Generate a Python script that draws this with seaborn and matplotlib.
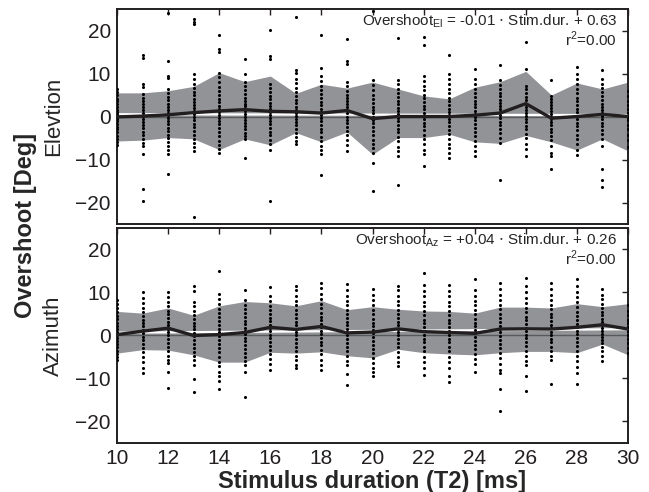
import numpy as np
import pandas as pd
import seaborn as sns
import matplotlib.pyplot as plt

## Donnees ##

durations = list(range(10, 31))

# Overshoot per trial, one list per stimulus duration (10..30 ms)
elev_dots = [
    [6.5, 5.6, 4.9, 4.1, 3.5, 2.8, 2.2, 1.6, 1.0, 0.5, 0.0, -0.6, -1.1, -1.7, -2.4, -3.0, -3.7, -4.5, -5.2, -6.0, -6.6],
    [14.2, 13.6, 7.6, 6.8, 5.2, 4.4, 3.6, 2.9, 2.1, 1.5, 0.8, 0.2, -0.5, -1.2, -1.9, -2.7, -3.5, -4.4, -5.3, -6.1, -6.9, -8.8, -16.9, -19.6],
    [24.0, 13.0, 9.4, 8.9, 6.4, 5.5, 4.6, 3.8, 3.0, 2.3, 1.6, 0.9, 0.3, -0.4, -1.0, -1.8, -2.6, -3.4, -4.3, -5.1, -6.0, -6.9, -7.8, -8.8, -13.4],
    [22.7, 21.9, 21.5, 9.9, 8.75, 7.6, 6.7, 5.8, 4.9, 4.1, 3.3, 2.6, 1.9, 1.2, 0.5, -0.2, -0.9, -1.7, -2.5, -3.4, -4.3, -5.2, -6.2, -7.1, -8.0, -23.3],
    [18.9, 15.8, 15.0, 10.2, 9.1, 8.0, 6.9, 5.9, 5.0, 4.1, 3.3, 2.5, 1.8, 1.1, 0.4, -0.3, -1.0, -1.8, -2.7, -3.6, -4.6, -5.6, -6.6, -7.5, -8.4],
    [13.3, 9.9, 8.1, 7.1, 6.1, 5.2, 4.4, 3.7, 3.0, 2.4, 1.8, 1.2, 0.6, 0.0, -0.7, -1.4, -2.2, -3.0, -3.9, -4.6, -5.3, -9.6],
    [20.2, 14.0, 13.4, 7.6, 6.6, 5.7, 4.8, 4.0, 3.2, 2.5, 1.8, 1.1, 0.4, -0.3, -1.0, -1.8, -2.6, -3.5, -4.4, -5.4, -6.5, -7.7, -19.6],
    [23.2, 10.7, 10.2, 8.75, 7.7, 6.7, 5.7, 4.8, 3.9, 3.1, 2.3, 1.6, 0.9, 0.2, -0.5, -1.2, -2.0, -2.9, -3.8, -4.7, -5.6, -6.5],
    [19.0, 11.25, 9.4, 8.3, 7.2, 6.2, 5.2, 4.3, 3.4, 2.6, 1.8, 1.1, 0.4, -0.3, -1.1, -1.9, -2.8, -3.7, -4.7, -5.8, -6.8, -7.8, -8.8, -13.5],
    [18.0, 12.9, 12.3, 8.0, 7.0, 6.0, 5.1, 4.3, 3.5, 2.8, 2.1, 1.4, 0.7, 0.0, -0.8, -1.6, -2.5, -3.4, -4.4, -5.5, -6.7, -8.0],
    [24.5, 8.4, 7.3, 6.2, 5.1, 4.1, 3.2, 2.3, 1.5, 0.7, 0.0, -0.8, -1.6, -2.5, -3.4, -4.4, -5.4, -6.4, -7.4, -8.4, -10.8, -17.4],
    [18.3, 8.6, 7.5, 6.4, 5.4, 4.5, 3.6, 2.8, 2.0, 1.2, 0.5, -0.3, -1.1, -1.9, -2.8, -3.7, -4.7, -5.8, -7.0, -8.1, -9.2, -15.9],
    [18.5, 16.6, 9.5, 8.3, 7.2, 6.1, 5.1, 4.2, 3.3, 2.5, 1.7, 0.9, 0.2, -0.6, -1.4, -2.3, -3.2, -4.2, -5.3, -6.5, -7.7, -8.8, -11.6],
    [14.2, 9.9, 8.7, 7.5, 6.4, 5.4, 4.4, 3.5, 2.6, 1.8, 1.0, 0.3, -0.5, -1.3, -2.2, -3.1, -4.1, -5.2, -6.3, -7.4, -8.5, -9.6],
    [11.1, 8.75, 7.6, 6.5, 5.5, 4.6, 3.7, 2.9, 2.1, 1.3, 0.6, -0.1, -0.9, -1.7, -2.6, -3.5, -4.5, -5.6, -6.8, -8.0, -9.2],
    [11.9, 8.4, 7.4, 6.4, 5.5, 4.7, 3.9, 3.1, 2.4, 1.7, 1.0, 0.3, -0.4, -1.2, -2.0, -2.9, -3.8, -4.9, -6.1, -14.7],
    [17.3, 11.1, 7.2, 6.3, 5.4, 4.6, 3.8, 3.0, 2.3, 1.6, 0.9, 0.2, -0.5, -1.3, -2.1, -3.0, -4.0, -5.1, -6.3, -7.6, -9.2],
    [8.4, 4.8, 4.0, 3.3, 2.6, 1.9, 1.2, 0.6, 0.0, -0.6, -1.3, -2.0, -2.8, -3.6, -4.5, -5.5, -6.9, -8.6, -9.2, -12.3],
    [11.5, 9.9, 8.7, 7.5, 6.4, 5.4, 4.4, 3.5, 2.6, 1.8, 1.0, 0.2, -0.6, -1.4, -2.3, -3.2, -4.2, -5.3, -6.5, -7.7, -9.0],
    [10.7, 8.75, 7.6, 6.6, 5.6, 4.7, 3.8, 3.0, 2.2, 1.5, 0.8, 0.1, -0.6, -1.4, -2.2, -3.1, -4.1, -5.2, -6.9, -12.3, -14.7, -16.4],
    [6.0, 4.8, 3.7, 2.7, 1.8, 0.9, 0.0, -0.9, -1.9, -3.0, -4.2, -5.5, -7.0],
]

azim_dots = [
    [8.3, 7.3, 6.3, 5.4, 4.6, 3.8, 3.0, 2.3, 1.6, 0.9, 0.2, -0.5, -1.2, -1.9, -2.7, -3.5, -4.4, -5.0, -5.7],
    [10.0, 8.8, 7.6, 6.5, 5.5, 4.6, 3.7, 2.9, 2.1, 1.3, 0.5, -0.3, -1.1, -2.0, -2.9, -3.9, -5.0, -6.2, -7.5, -8.8],
    [10.2, 9.0, 7.9, 6.8, 5.8, 4.9, 4.0, 3.2, 2.4, 1.6, 0.8, 0.0, -0.8, -1.7, -2.6, -3.6, -4.7, -5.6, -6.4, -8.6, -12.1],
    [11.6, 10.4, 7.9, 6.8, 5.8, 4.8, 3.9, 3.0, 2.2, 1.4, 0.6, -0.2, -1.0, -1.9, -2.8, -3.8, -4.8, -5.8, -6.8, -10.2, -13.1],
    [14.9, 9.7, 8.5, 7.3, 6.2, 5.2, 4.2, 3.3, 2.4, 1.5, 0.7, -0.1, -1.0, -1.9, -2.9, -3.9, -5.0, -6.1, -7.2, -8.4, -9.5, -10.5, -12.4],
    [10.5, 8.3, 7.2, 6.2, 5.2, 4.3, 3.4, 2.6, 1.8, 1.0, 0.3, -0.5, -1.3, -2.2, -3.1, -4.1, -5.1, -6.0, -6.8, -8.6, -14.4],
    [11.2, 9.1, 8.0, 6.9, 5.9, 5.0, 4.1, 3.3, 2.5, 1.7, 1.0, 0.2, -0.6, -1.5, -2.4, -3.4, -4.4, -5.5, -6.7, -8.0],
    [11.6, 10.6, 9.3, 8.1, 7.0, 6.0, 5.0, 4.1, 3.2, 2.4, 1.6, 0.8, 0.0, -0.8, -1.7, -2.6, -3.6, -4.7, -5.8, -6.8, -7.6],
    [12.2, 11.0, 9.7, 8.5, 7.4, 6.3, 5.3, 4.4, 3.5, 2.7, 1.9, 1.1, 0.3, -0.5, -1.4, -2.3, -3.3, -4.4, -5.6, -6.8, -8.0],
    [12.0, 10.6, 9.3, 8.1, 7.0, 6.0, 5.0, 4.1, 3.2, 2.4, 1.6, 0.8, 0.0, -0.8, -1.7, -2.7, -3.7, -4.8, -5.9, -6.8, -9.0, -11.5],
    [10.8, 9.5, 8.2, 7.0, 5.9, 4.9, 3.9, 3.0, 2.1, 1.3, 0.5, -0.3, -1.2, -2.1, -3.1, -4.1, -5.2, -6.4, -7.6, -8.6, -9.5],
    [11.5, 10.6, 9.3, 8.1, 7.0, 6.0, 5.0, 4.1, 3.2, 2.4, 1.6, 0.8, 0.0, -0.8, -1.7, -2.7, -3.8, -5.0, -6.1, -7.2],
    [14.5, 11.8, 10.4, 9.1, 7.9, 6.8, 5.7, 4.7, 3.7, 2.8, 1.9, 1.0, 0.2, -0.7, -1.6, -2.6, -3.7, -4.9, -6.2, -7.6, -9.1],
    [11.8, 10.4, 9.1, 7.9, 6.8, 5.7, 4.7, 3.7, 2.8, 1.9, 1.0, 0.2, -0.7, -1.6, -2.6, -3.7, -4.9, -6.2, -7.6, -9.5, -10.9],
    [13.1, 10.6, 9.3, 8.1, 7.0, 5.9, 4.9, 3.9, 3.0, 2.1, 1.3, 0.5, -0.3, -1.2, -2.1, -3.1, -4.2, -5.4, -6.7, -8.4],
    [12.2, 10.8, 9.5, 8.3, 7.2, 6.1, 5.1, 4.1, 3.2, 2.3, 1.5, 0.7, -0.1, -1.0, -1.9, -2.9, -4.0, -5.2, -6.6, -8.0, -8.8, -12.5, -17.5],
    [13.3, 11.4, 10.0, 8.8, 7.6, 6.5, 5.4, 4.4, 3.5, 2.6, 1.8, 1.0, 0.2, -0.6, -1.5, -2.5, -3.6, -4.8, -6.0, -6.8, -9.4, -13.0],
    [12.2, 10.8, 9.5, 8.3, 7.2, 6.1, 5.1, 4.2, 3.3, 2.5, 1.7, 0.9, 0.1, -0.7, -1.6, -2.6, -3.6, -4.7, -5.7, -11.2],
    [13.1, 11.6, 10.2, 8.9, 7.7, 6.6, 5.5, 4.5, 3.6, 2.7, 1.9, 1.1, 0.3, -0.5, -1.4, -2.4, -3.5, -4.7, -6.0, -7.4, -8.8, -11.3],
    [10.9, 9.5, 8.4, 7.4, 6.4, 5.5, 4.7, 3.9, 3.2, 2.5, 1.8, 1.1, 0.4, -0.3, -1.0, -1.8, -2.7, -3.7, -4.8, -6.0],
    [7.0, 5.8, 4.7, 3.7, 2.8, 1.9, 1.0, 0.2, -0.7, -1.7, -2.8, -4.0],
]

# Mean line and shaded band (upper / lower edge) per duration
elev_mean = [-0.1, 0.1, 0.4, 0.9, 1.3, 1.6, 1.2, 1.1, 0.8, 1.4, -0.5, 0.0, 0.0, 0.0, 0.3, 0.8, 3.0, -0.4, 0.0, 0.5, 0.0]
elev_upper = [5.5, 5.5, 6.0, 7.0, 10.2, 8.1, 9.4, 5.4, 7.5, 6.6, 8.0, 6.4, 4.8, 4.1, 6.8, 8.1, 10.5, 5.0, 7.8, 6.4, 8.0]
elev_lower = [-5.7, -5.5, -4.9, -5.2, -7.7, -5.2, -6.6, -3.75, -5.9, -3.6, -8.8, -4.9, -4.9, -4.1, -5.9, -6.25, -4.4, -5.9, -7.8, -5.2, -8.0]

azim_mean = [0.2, 1.0, 1.7, 0.0, 0.2, 0.7, 1.9, 1.4, 2.1, 0.6, 0.8, 1.55, 0.9, 0.7, 0.5, 1.5, 1.55, 1.5, 1.9, 2.5, 1.5]
azim_upper = [5.6, 5.2, 6.4, 4.7, 6.9, 7.9, 7.6, 6.9, 8.1, 6.0, 6.7, 6.1, 5.7, 5.6, 5.2, 6.6, 6.6, 6.4, 7.4, 6.7, 7.4]
azim_lower = [-4.1, -3.3, -3.4, -4.5, -6.2, -6.2, -3.9, -4.1, -3.8, -4.7, -5.2, -3.2, -4.0, -4.3, -4.5, -4.0, -3.7, -3.7, -4.0, -2.0, -4.5]

# Regression coefficients (slope, intercept)
elev_fit = (-0.01, 0.63)
azim_fit = (0.04, 0.26)

## Figure ##

sns.set_style("white")
plt.rcParams['font.family'] = ['Liberation Sans', 'DejaVu Sans']

band_col = '#929397'

fig = plt.figure(figsize=(6.49, 4.92), dpi=100)
ax_el = fig.add_axes([0.1803, 0.5447, 0.7874, 0.437])
ax_az = fig.add_axes([0.1803, 0.0996, 0.7874, 0.437])

panels = [
    (ax_el, elev_dots, elev_mean, elev_upper, elev_lower, elev_fit,
     r'Overshoot$_{\mathregular{El}}$ = -0.01 $\cdot$ Stim.dur. + 0.63'),
    (ax_az, azim_dots, azim_mean, azim_upper, azim_lower, azim_fit,
     r'Overshoot$_{\mathregular{Az}}$ = +0.04 $\cdot$ Stim.dur. + 0.26'),
]

for ax, dots, mean, upper, lower, fit, eq in panels:
    df_dots = pd.DataFrame([(d, v) for d, col in zip(durations, dots) for v in col],
                           columns=['duration', 'overshoot'])
    df_stat = pd.DataFrame({'duration': durations, 'mean': mean,
                            'upper': upper, 'lower': lower})

    ax.fill_between(df_stat['duration'], df_stat['lower'], df_stat['upper'],
                    color=band_col, linewidth=0, zorder=1)
    ax.axhline(0, color='#58595b', linewidth=1.0, zorder=2)
    xs = np.array([10, 30])
    ax.plot(xs, fit[0] * xs + fit[1], color='white', linewidth=1.6, zorder=3)
    sns.scatterplot(data=df_dots, x='duration', y='overshoot', ax=ax, color='black',
                    s=5, linewidth=0, zorder=4, legend=False)
    sns.lineplot(data=df_stat, x='duration', y='mean', ax=ax, color='#231f20',
                 linewidth=2.4, zorder=5)

    ax.set_xlim(10, 30)
    ax.set_ylim(-25, 25)
    ax.set_xticks(range(10, 31, 2))
    ax.set_yticks([-20, -10, 0, 10, 20])
    ax.tick_params(direction='in', length=4, width=1, top=True, right=True,
                   labelsize=15, pad=4.5, colors='#231f20')
    for sp in ax.spines.values():
        sp.set_color('#231f20')
        sp.set_linewidth(1.4)
    ax.set_xlabel('')
    ax.set_ylabel('')

    ax.text(0.978, 0.985, eq, transform=ax.transAxes, ha='right', va='top', fontsize=11)
    ax.text(0.978, 0.905, r'r$^{\mathregular{2}}$=0.00', transform=ax.transAxes,
            ha='right', va='top', fontsize=11)

ax_el.tick_params(labelbottom=False)
ax_az.set_xlabel('Stimulus duration (T2) [ms]', fontsize=17, fontweight='bold', labelpad=1)

fig.text(0.083, 0.763, 'Elevtion', rotation=90, ha='center', va='center', fontsize=16)
fig.text(0.083, 0.318, 'Azimuth', rotation=90, ha='center', va='center', fontsize=16)
fig.text(0.040, 0.541, 'Overshoot [Deg]', rotation=90, ha='center', va='center',
         fontsize=17, fontweight='bold')

plt.savefig('out.png', dpi=100)
